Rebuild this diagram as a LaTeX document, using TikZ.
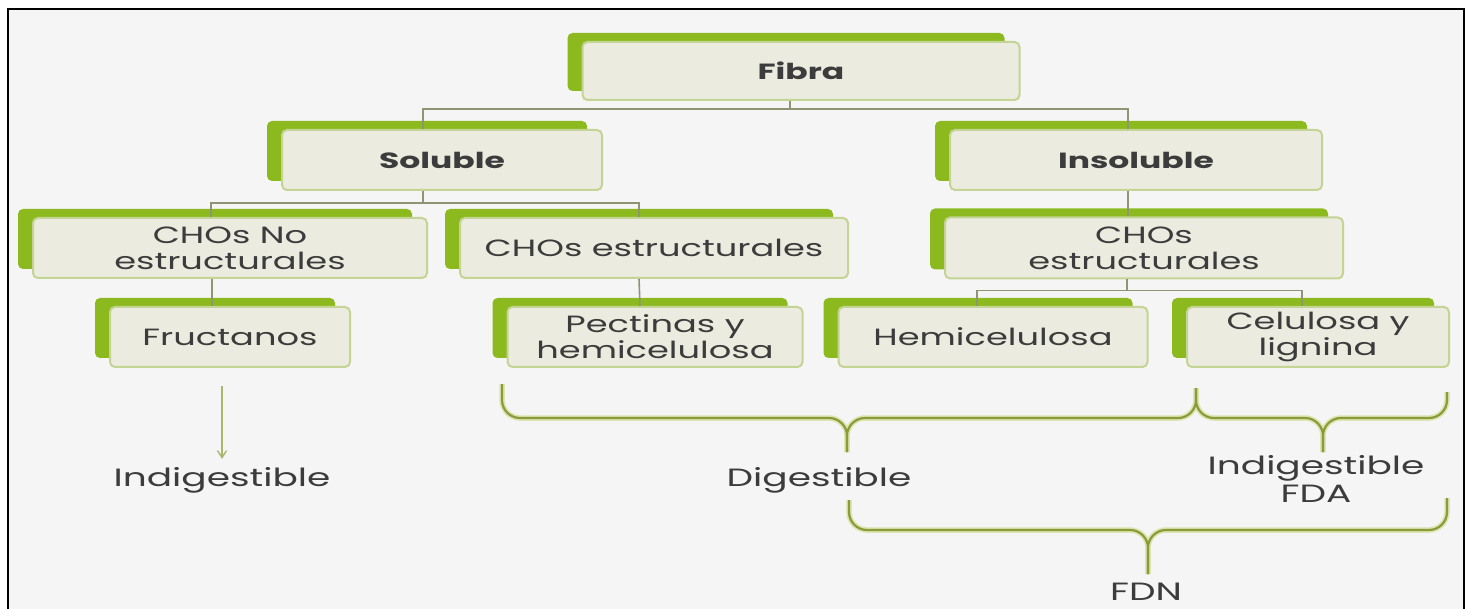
\documentclass[tikz,border=0pt]{standalone}
\usepackage{fontspec}
\newfontfamily\gfont{Poppins}[FakeStretch=1.5]
\usetikzlibrary{arrows.meta}
\definecolor{bggray}{HTML}{F5F5F5}
\definecolor{backgreen}{HTML}{8CBA1E}
\definecolor{boxfill}{HTML}{EBEBDF}
\definecolor{boxline}{HTML}{C3D495}
\definecolor{txt}{HTML}{3C3C3C}
\definecolor{conn}{HTML}{8F9473}
\definecolor{arrowcol}{HTML}{AAB56E}
\definecolor{bracecol}{HTML}{8A9B3A}
\definecolor{braceglow}{HTML}{DCE5B0}
\begin{document}
\begin{tikzpicture}[x=1pt,y=-1pt,
  gbox/.style={draw=boxline, line width=2pt, fill=boxfill, rounded corners=5pt,
    inner sep=0pt, align=center, text=txt,
    font=\gfont\fontsize{23.5}{26}\selectfont,
    preaction={fill=backgreen, draw=none, transform canvas={xshift=-15pt,yshift=9pt}}},
  boldbox/.style={gbox, font=\gfont\bfseries\fontsize{22}{24}\selectfont},
  lbl/.style={inner sep=0pt, align=center, text=txt, font=\gfont\fontsize{25}{28}\selectfont},
  connline/.style={draw=conn, line width=1.6pt},
  braceglowline/.style={draw=braceglow, line width=5.5pt, rounded corners=18pt},
  bracecoreline/.style={draw=bracecol, line width=2.2pt, rounded corners=18pt}
]
\fill[white] (0,0) rectangle (1472,609);
\useasboundingbox (0,0) rectangle (1472,609);
\draw[line width=2.5pt, fill=bggray] (8,9) rectangle (1464,640);

% boxes
\node[boldbox, minimum width=437pt, minimum height=58pt] (fibra) at (801,71) {Fibra};
\node[boldbox, minimum width=320pt, minimum height=60pt] (soluble) at (442,160) {Soluble};
\node[boldbox, minimum width=372pt, minimum height=60pt] (insoluble) at (1136,160) {Insoluble};
\node[gbox, minimum width=394pt, minimum height=60pt] (chono) at (230,248) {CHOs No\\estructurales};
\node[gbox, minimum width=388pt, minimum height=60pt] (choest) at (654,248) {CHOs estructurales};
\node[gbox, minimum width=398pt, minimum height=61pt] (choestr) at (1144,248) {CHOs\\estructurales};
\node[gbox, minimum width=240pt, minimum height=60pt] (fruct) at (230,337) {Fructanos};
\node[gbox, minimum width=295pt, minimum height=60pt] (pect) at (655,337) {Pectinas y\\hemicelulosa};
\node[gbox, minimum width=309pt, minimum height=60pt] (hemi) at (993,337) {Hemicelulosa};
\node[gbox, minimum width=262pt, minimum height=60pt] (celu) at (1318,337) {Celulosa y\\lignina};

% labels
\node[lbl] (indig1) at (222,480) {Indigestible};
\node[lbl] (dig) at (819,480) {Digestible};
\node[lbl] (fda) at (1316,479) {Indigestible\\FDA};
\node[lbl] (fdn) at (1146,592) {FDN};

% connectors
\draw[connline] ([xshift=-11pt]fibra.south) -- ++(0,8) coordinate (j1);
\draw[connline] ([xshift=-19pt]soluble.north) |- (j1) -| ([xshift=-8pt]insoluble.north);
\draw[connline] ([xshift=-19pt]soluble.south) -- ++(0,12) coordinate (j2);
\draw[connline] ([xshift=-19pt]chono.north) |- (j2) -| ([xshift=-15pt]choest.north);
\draw[connline] ([xshift=-18pt]chono.south) -- ([xshift=-18pt]fruct.north);
\draw[connline] ([xshift=-15pt]choest.south) -- ([xshift=-15pt]pect.north);
\draw[connline] ([xshift=-8pt]insoluble.south) -- ([xshift=-16pt]choestr.north);
\draw[connline] ([xshift=-17pt]choestr.south) -- ++(0,11) coordinate (j3);
\draw[connline] ([xshift=-16pt]hemi.north) |- (j3) -| ([xshift=-16pt]celu.north);
\draw[draw=arrowcol, line width=1.4pt, -{Straight Barb[length=7pt,width=9pt]}]
  ([xshift=-8pt,yshift=-18pt]fruct.south) -- ([yshift=8pt]indig1.north);

% braces
\foreach \s in {braceglowline, bracecoreline} {
  \draw[\s] (502,384) -- (502,418) -- (847,418) -- (847,452);
  \draw[\s] (1196,388) -- (1196,418) -- (847,418) -- (847,452);
  \draw[\s] (1196,388) -- (1196,418) -- (1323,418) -- (1323,452);
  \draw[\s] (1447,392) -- (1447,418) -- (1323,418) -- (1323,452);
  \draw[\s] (849,500) -- (849,530) -- (1148,530) -- (1148,574);
  \draw[\s] (1447,498) -- (1447,530) -- (1148,530) -- (1148,574);
}
\end{tikzpicture}
\end{document}
